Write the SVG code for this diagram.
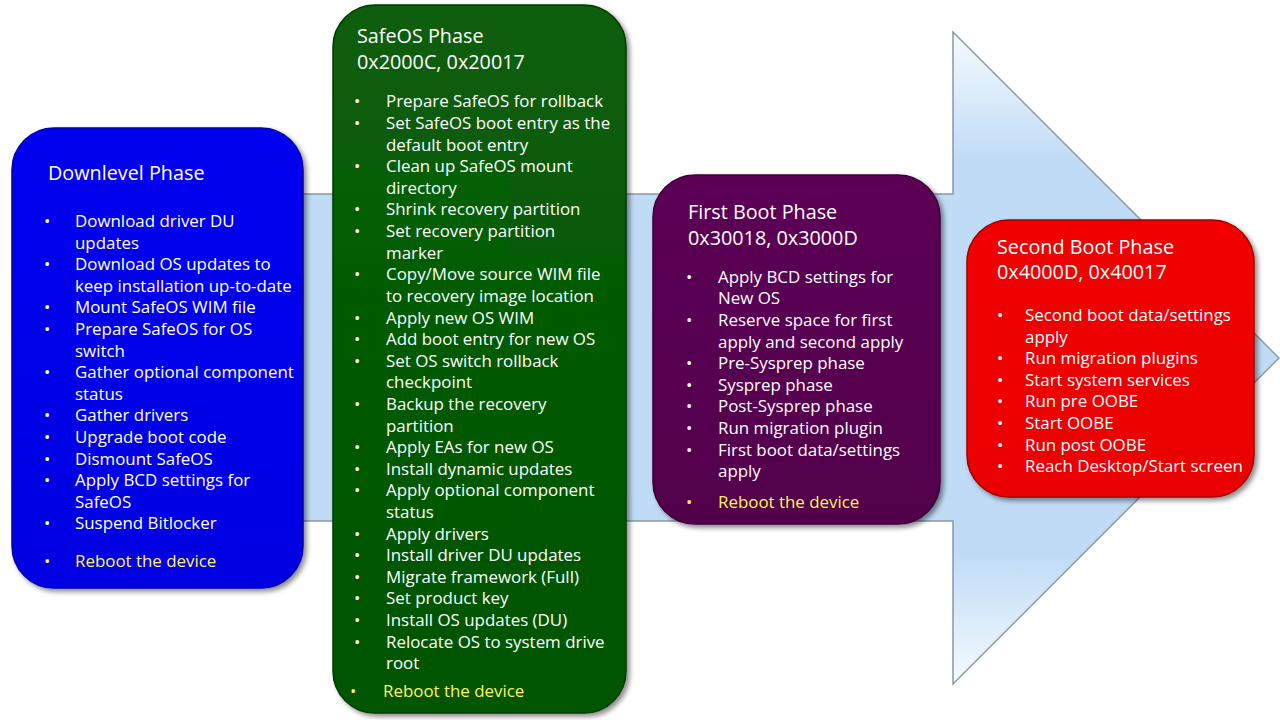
<svg xmlns="http://www.w3.org/2000/svg" width="1280" height="720" viewBox="0 0 1280 720">
<defs>
<linearGradient id="arrowGrad" gradientUnits="userSpaceOnUse" x1="0" y1="32" x2="0" y2="684">
<stop offset="0" stop-color="#F5FBFF"/>
<stop offset="0.2" stop-color="#BFDBF5"/>
<stop offset="0.8" stop-color="#BFDBF5"/>
<stop offset="1" stop-color="#F5FBFF"/>
</linearGradient>
<filter id="shadow" x="-10%" y="-10%" width="125%" height="125%">
<feDropShadow dx="3" dy="3" stdDeviation="2.5" flood-color="#000" flood-opacity="0.45"/>
</filter>
<linearGradient id="gBlue" x1="0" y1="0" x2="0" y2="1">
<stop offset="0" stop-color="#0606F0"/><stop offset="1" stop-color="#0000E2"/>
</linearGradient>
<linearGradient id="gGreen" x1="0" y1="0" x2="0" y2="1">
<stop offset="0" stop-color="#085E08"/><stop offset="1" stop-color="#035503"/>
</linearGradient>
<linearGradient id="gPurple" x1="0" y1="0" x2="0" y2="1">
<stop offset="0" stop-color="#5C0655"/><stop offset="1" stop-color="#52004C"/>
</linearGradient>
<linearGradient id="gRed" x1="0" y1="0" x2="0" y2="1">
<stop offset="0" stop-color="#F20404"/><stop offset="1" stop-color="#EA0000"/>
</linearGradient>
</defs>
<style>
text{font-family:"Open Sans","Noto Sans","DejaVu Sans",sans-serif;fill:#FFFFFF}
.t{font-size:19.8px}
.i{font-size:16.9px}
.y{fill:#FFF35C}
.box{filter:url(#shadow);stroke-width:1.5}
</style>
<rect width="1280" height="720" fill="#FFFFFF"/>
<g id="connectors">
<polygon points="100,194 953,194 953,32 1279,358 953,684 953,521 100,521" fill="url(#arrowGrad)" stroke="#8A98A8" stroke-width="1.5"/>
</g>
<g id="downlevel">
<rect class="box" x="12" y="128" width="291" height="460" rx="42" fill="url(#gBlue)" stroke="#0000A8"/>
<text class="t" x="48" y="180">Downlevel Phase</text>
<g class="i">
<text x="44" y="227">•</text><text x="75" y="227">Download driver DU</text>
<text x="75" y="249">updates</text>
<text x="44" y="270">•</text><text x="75" y="270">Download OS updates to</text>
<text x="75" y="292">keep installation  up-to-date</text>
<text x="44" y="313">•</text><text x="75" y="313">Mount SafeOS WIM file</text>
<text x="44" y="335">•</text><text x="75" y="335">Prepare SafeOS for OS</text>
<text x="75" y="357">switch</text>
<text x="44" y="378">•</text><text x="75" y="378">Gather optional component</text>
<text x="75" y="400">status</text>
<text x="44" y="421">•</text><text x="75" y="421">Gather drivers</text>
<text x="44" y="443">•</text><text x="75" y="443">Upgrade boot code</text>
<text x="44" y="465">•</text><text x="75" y="465">Dismount SafeOS</text>
<text x="44" y="486">•</text><text x="75" y="486">Apply BCD settings for</text>
<text x="75" y="508">SafeOS</text>
<text x="44" y="529">•</text><text x="75" y="529">Suspend Bitlocker</text>
<text class="y" x="44" y="567">•</text><text class="y" x="75" y="567">Reboot the device</text>
</g>
</g>
<g id="safeos">
<rect class="box" x="333" y="5" width="293" height="708" rx="42" fill="url(#gGreen)" stroke="#023A02"/>
<text class="t" x="357" y="43">SafeOS Phase</text>
<text class="t" x="357" y="69">0x2000C, 0x20017</text>
<g class="i">
<text x="354" y="107">•</text><text x="386" y="107">Prepare SafeOS for rollback</text>
<text x="354" y="129">•</text><text x="386" y="129">Set SafeOS boot entry as the</text>
<text x="386" y="151">default boot entry</text>
<text x="354" y="172">•</text><text x="386" y="172">Clean up SafeOS mount</text>
<text x="386" y="194">directory</text>
<text x="354" y="215">•</text><text x="386" y="215">Shrink recovery partition</text>
<text x="354" y="237">•</text><text x="386" y="237">Set recovery partition</text>
<text x="386" y="259">marker</text>
<text x="354" y="280">•</text><text x="386" y="280">Copy/Move source WIM file</text>
<text x="386" y="302">to recovery image location</text>
<text x="354" y="324">•</text><text x="386" y="324">Apply new OS WIM</text>
<text x="354" y="345">•</text><text x="386" y="345">Add boot entry for new OS</text>
<text x="354" y="367">•</text><text x="386" y="367">Set OS switch rollback</text>
<text x="386" y="388">checkpoint</text>
<text x="354" y="410">•</text><text x="386" y="410">Backup the recovery</text>
<text x="386" y="432">partition</text>
<text x="354" y="453">•</text><text x="386" y="453">Apply EAs for new OS</text>
<text x="354" y="475">•</text><text x="386" y="475">Install dynamic updates</text>
<text x="354" y="496">•</text><text x="386" y="496">Apply optional component</text>
<text x="386" y="518">status</text>
<text x="354" y="540">•</text><text x="386" y="540">Apply drivers</text>
<text x="354" y="561">•</text><text x="386" y="561">Install driver DU updates</text>
<text x="354" y="583">•</text><text x="386" y="583">Migrate framework (Full)</text>
<text x="354" y="604">•</text><text x="386" y="604">Set product key</text>
<text x="354" y="626">•</text><text x="386" y="626">Install OS updates (DU)</text>
<text x="354" y="648">•</text><text x="386" y="648">Relocate OS to system drive</text>
<text x="386" y="669">root</text>
<text class="y" x="350" y="697">•</text><text class="y" x="383" y="697">Reboot the device</text>
</g>
</g>
<g id="firstboot">
<rect class="box" x="653" y="175" width="287" height="349" rx="42" fill="url(#gPurple)" stroke="#3A0035"/>
<text class="t" x="688" y="219">First Boot Phase</text>
<text class="t" x="688" y="245">0x30018, 0x3000D</text>
<g class="i">
<text x="686" y="283">•</text><text x="718" y="283">Apply BCD settings for</text>
<text x="718" y="304">New OS</text>
<text x="686" y="326">•</text><text x="718" y="326">Reserve space for first</text>
<text x="718" y="348">apply and second apply</text>
<text x="686" y="369">•</text><text x="718" y="369">Pre-Sysprep phase</text>
<text x="686" y="391">•</text><text x="718" y="391">Sysprep phase</text>
<text x="686" y="412">•</text><text x="718" y="412">Post-Sysprep phase</text>
<text x="686" y="434">•</text><text x="718" y="434">Run migration plugin</text>
<text x="686" y="456">•</text><text x="718" y="456">First boot data/settings</text>
<text x="718" y="477">apply</text>
<text class="y" x="686" y="508">•</text><text class="y" x="718" y="508">Reboot the device</text>
</g>
</g>
<g id="secondboot">
<rect class="box" x="967" y="220" width="287" height="277" rx="42" fill="url(#gRed)" stroke="#A00000"/>
<text class="t" x="997" y="254">Second Boot Phase</text>
<text class="t" x="997" y="279">0x4000D, 0x40017</text>
<g class="i">
<text x="997" y="321">•</text><text x="1025" y="321">Second boot data/settings</text>
<text x="1025" y="343">apply</text>
<text x="997" y="364">•</text><text x="1025" y="364">Run migration plugins</text>
<text x="997" y="386">•</text><text x="1025" y="386">Start system services</text>
<text x="997" y="407">•</text><text x="1025" y="407">Run pre OOBE</text>
<text x="997" y="429">•</text><text x="1025" y="429">Start OOBE</text>
<text x="997" y="451">•</text><text x="1025" y="451">Run post OOBE</text>
<text x="997" y="472">•</text><text x="1025" y="472">Reach Desktop/Start screen</text>
</g>
</g>
</svg>
